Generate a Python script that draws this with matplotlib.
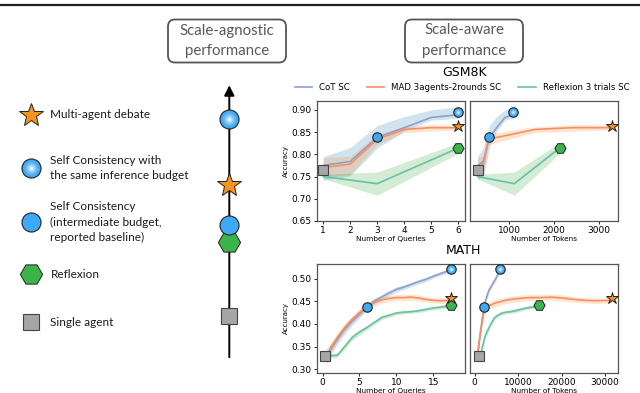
import matplotlib
matplotlib.use("Agg")
import matplotlib.pyplot as plt
from matplotlib.patches import FancyBboxPatch
from matplotlib.colors import to_rgb
import numpy as np

# ---- GSM8K, accuracy vs number of queries / tokens ----
gsm_q = [1, 2, 3, 4, 5, 6]
gsm_cot = [0.775, 0.784, 0.838, 0.860, 0.883, 0.889]
gsm_cot_lo = [0.742, 0.752, 0.814, 0.852, 0.877, 0.881]
gsm_cot_hi = [0.795, 0.815, 0.865, 0.885, 0.900, 0.907]
gsm_cot_tok = [290, 420, 555, 717, 903, 1075]

gsm_mad = [0.770, 0.778, 0.834, 0.856, 0.860, 0.860]
gsm_mad_lo = [0.750, 0.754, 0.822, 0.849, 0.852, 0.855]
gsm_mad_hi = [0.792, 0.796, 0.846, 0.862, 0.867, 0.866]
gsm_mad_tok = [290, 420, 530, 1570, 2420, 3280]

gsm_ref_q = [1, 3, 6]
gsm_ref = [0.750, 0.734, 0.814]
gsm_ref_lo = [0.745, 0.708, 0.802]
gsm_ref_hi = [0.755, 0.760, 0.826]
gsm_ref_tok = [290, 1110, 2120]

# highlighted points (queries, tokens, accuracy)
gsm_single = (1, 300, 0.765)
gsm_sc_mid = (3, 555, 0.840)
gsm_sc_same = (6, 1075, 0.895)
gsm_debate = (6, 3280, 0.864)
gsm_reflexion = (6, 2120, 0.814)

# ---- MATH ----
math_q = [0.5, 1, 2, 3, 4, 5, 6, 7, 8, 9, 10, 11, 12, 13, 14, 15, 16, 17.4]
math_cot = [0.330, 0.341, 0.366, 0.388, 0.406, 0.421, 0.438, 0.450, 0.459,
            0.468, 0.476, 0.481, 0.487, 0.493, 0.498, 0.505, 0.511, 0.519]
math_cot_err = [0.015, 0.012, 0.011, 0.010, 0.009, 0.008, 0.007, 0.007, 0.006,
                0.006, 0.006, 0.005, 0.005, 0.005, 0.005, 0.004, 0.004, 0.004]
math_cot_tok = [650, 800, 1100, 1400, 1650, 1900, 2150, 2450, 2750, 3050,
                3350, 3700, 4050, 4400, 4750, 5100, 5450, 5850]

math_mad = [0.318, 0.345, 0.370, 0.392, 0.410, 0.425, 0.437, 0.447, 0.453,
            0.456, 0.458, 0.458, 0.459, 0.457, 0.454, 0.452, 0.451, 0.452]
math_mad_err = [0.012, 0.011, 0.010, 0.009, 0.008, 0.008, 0.008, 0.008, 0.007,
                0.007, 0.007, 0.007, 0.007, 0.007, 0.006, 0.006, 0.006, 0.006]
math_mad_tok = [600, 800, 1150, 1500, 1800, 2100, 2450, 5000, 7500, 10000,
                12600, 15100, 17700, 20200, 22800, 25300, 27900, 31500]

math_ref = [0.330, 0.330, 0.331, 0.350, 0.370, 0.382, 0.392, 0.403, 0.414,
            0.419, 0.424, 0.426, 0.427, 0.429, 0.432, 0.435, 0.437, 0.440]
math_ref_err = [0.005, 0.005, 0.005, 0.006, 0.006, 0.006, 0.005, 0.005, 0.005,
                0.004, 0.004, 0.004, 0.004, 0.004, 0.004, 0.004, 0.004, 0.004]
math_ref_tok = [900, 1000, 1300, 1800, 2300, 2800, 3300, 3900, 4600, 5300,
                6300, 7300, 8300, 9300, 10500, 11800, 13200, 14800]

math_single = (0.4, 920, 0.330)
math_sc_mid = (6, 2150, 0.438)
math_sc_same = (17.4, 5850, 0.520)
math_debate = (17.4, 31500, 0.458)
math_reflexion = (17.4, 14800, 0.442)

series_names = ["CoT SC", "MAD 3agents-2rounds SC", "Reflexion 3 trials SC"]
line_colors = ["#8da0cb", "#fc8d62", "#66c2a5"]
band_colors = ["#1f77b4", "#ff7f0e", "#2ca02c"]

C_BLUE = "#3fa9f5"
C_STAR = "#f7941d"
C_HEX = "#3bb54a"
C_SQ = "#a6a6a6"
EDGE = "#222222"

fig = plt.figure(figsize=(6.4, 3.93), dpi=100)

# ---- schematic (pixel coordinates) ----
ax0 = fig.add_axes([0, 0, 1, 1])
ax0.set_xlim(0, 640)
ax0.set_ylim(393, 0)
ax0.axis("off")

ax0.plot([0, 640], [4.5, 4.5], color="#222222", lw=1.6)

for bx, lines in [(168, ["Scale-agnostic", "performance"]),
                  (405, ["Scale-aware", "performance"])]:
    ax0.add_patch(FancyBboxPatch((bx, 19.5), 118, 43,
                                 boxstyle="round,pad=0,rounding_size=7",
                                 fc="white", ec="#555555", lw=1.3))
    ax0.text(bx + 59, 30.5, lines[0], ha="center", va="center",
             fontsize=10.8, color="#595959", family="Lato")
    ax0.text(bx + 59, 50.5, lines[1], ha="center", va="center",
             fontsize=10.8, color="#595959", family="Lato")


def glossy(ax, x, y, ms):
    # light blue disc with a soft white centre
    ax.plot(x, y, "o", ms=ms, mfc=C_BLUE, mec=EDGE, mew=0.8, zorder=6, clip_on=False)
    base = np.array(to_rgb(C_BLUE))
    steps = 7
    for k in range(1, steps + 1):
        f = k / steps
        col = base + (1 - base) * (f ** 1.6) * 0.95
        ax.plot(x, y, "o", ms=(ms - 1.0) * (1 - f * 0.88), mfc=col, mec="none",
                zorder=6 + k * 0.1, clip_on=False)


def marker(ax, kind, x, y, big):
    if kind == "star":
        ax.plot(x, y, "*", ms=18 if big else 9, mfc=C_STAR, mec=EDGE, mew=0.7, zorder=6, clip_on=False)
    elif kind == "same":
        glossy(ax, x, y, 13.7 if big else 6.8)
    elif kind == "mid":
        ax.plot(x, y, "o", ms=13.7 if big else 6.8, mfc=C_BLUE, mec=EDGE, mew=0.8, zorder=6, clip_on=False)
    elif kind == "hex":
        ax.plot(x, y, "H", ms=16 if big else 8, mfc=C_HEX, mec=EDGE, mew=0.7, zorder=5, clip_on=False)
    elif kind == "sq":
        ax.plot(x, y, "s", ms=11.5 if big else 7.3, mfc=C_SQ, mec="#444444", mew=0.8, zorder=6, clip_on=False)


# legend column on the left
legend_rows = [("star", 115, ["Multi-agent debate"]),
               ("same", 168, ["Self Consistency with", "the same inference budget"]),
               ("mid", 222, ["Self Consistency", "(intermediate budget,", "reported baseline)"]),
               ("hex", 274, ["Reflexion"]),
               ("sq", 322, ["Single agent"])]
for kind, yy, lines in legend_rows:
    marker(ax0, kind, 31, yy, True)
    n = len(lines)
    for i, t in enumerate(lines):
        ax0.text(50.5, yy + (i - (n - 1) / 2) * 15.5, t, ha="left", va="center",
                 fontsize=8.5, color="#1a1a1a", family="Lato")

# vertical arrow with ranking
ax0.annotate("", xy=(229.3, 82.5), xytext=(229.3, 360),
             arrowprops=dict(arrowstyle="-|>", lw=1.4, color="black", mutation_scale=15))
for kind, yy in [("same", 119), ("star", 185), ("hex", 242), ("mid", 225), ("sq", 315.5)]:
    marker(ax0, kind, 229.3, yy, True)

# ---- charts ----
W = 148 / 640
ax_gq = fig.add_axes([317 / 640, 1 - 221 / 393, W, 120 / 393])
ax_gt = fig.add_axes([469.7 / 640, 1 - 221 / 393, W, 120 / 393], sharey=ax_gq)
ax_mq = fig.add_axes([317 / 640, 1 - 373 / 393, W, 109 / 393])
ax_mt = fig.add_axes([469.7 / 640, 1 - 373 / 393, W, 109 / 393], sharey=ax_mq)


def draw_band(ax, x, y, lo, hi, i):
    ax.fill_between(x, lo, hi, color=band_colors[i], alpha=0.2, lw=0)
    return ax.plot(x, y, color=line_colors[i], lw=1.2, label=series_names[i])[0]


handles = []
for ax, xs in [(ax_gq, (gsm_q, gsm_q, gsm_ref_q)),
               (ax_gt, (gsm_cot_tok, gsm_mad_tok, gsm_ref_tok))]:
    h1 = draw_band(ax, xs[0], gsm_cot, gsm_cot_lo, gsm_cot_hi, 0)
    h2 = draw_band(ax, xs[1], gsm_mad, gsm_mad_lo, gsm_mad_hi, 1)
    h3 = draw_band(ax, xs[2], gsm_ref, gsm_ref_lo, gsm_ref_hi, 2)
    if not handles:
        handles = [h1, h2, h3]

for ax, xs in [(ax_mq, (math_q, math_q, math_q)),
               (ax_mt, (math_cot_tok, math_mad_tok, math_ref_tok))]:
    for i, (vals, err) in enumerate([(math_cot, math_cot_err),
                                     (math_mad, math_mad_err),
                                     (math_ref, math_ref_err)]):
        v = np.array(vals)
        e = np.array(err)
        draw_band(ax, xs[i], v, v - e, v + e, i)

for ax, col in [(ax_gq, 0), (ax_gt, 1)]:
    marker(ax, "hex", gsm_reflexion[col], gsm_reflexion[2], False)
    marker(ax, "star", gsm_debate[col], gsm_debate[2], False)
    marker(ax, "mid", gsm_sc_mid[col], gsm_sc_mid[2], False)
    marker(ax, "same", gsm_sc_same[col], gsm_sc_same[2], False)
    marker(ax, "sq", gsm_single[col], gsm_single[2], False)

for ax, col in [(ax_mq, 0), (ax_mt, 1)]:
    marker(ax, "hex", math_reflexion[col], math_reflexion[2], False)
    marker(ax, "star", math_debate[col], math_debate[2], False)
    marker(ax, "mid", math_sc_mid[col], math_sc_mid[2], False)
    marker(ax, "same", math_sc_same[col], math_sc_same[2], False)
    marker(ax, "sq", math_single[col], math_single[2], False)

ax_gq.set_xlim(0.77, 6.25)
ax_gt.set_xlim(115, 3416)
ax_gq.set_ylim(0.65, 0.92)
ax_gq.set_xticks([1, 2, 3, 4, 5, 6])
ax_gt.set_xticks([1000, 2000, 3000])
ax_gq.set_yticks([0.65, 0.70, 0.75, 0.80, 0.85, 0.90])

ax_mq.set_xlim(-0.75, 19.3)
ax_mt.set_xlim(-1150, 32900)
ax_mq.set_ylim(0.292, 0.532)
ax_mq.set_xticks([0, 5, 10, 15])
ax_mt.set_xticks([0, 10000, 20000, 30000])
ax_mq.set_yticks([0.30, 0.35, 0.40, 0.45, 0.50])

for ax in [ax_gq, ax_gt, ax_mq, ax_mt]:
    ax.tick_params(labelsize=6.5, length=2.5, width=0.6, pad=1.2)
    for s in ax.spines.values():
        s.set_color("#555555")
        s.set_linewidth(0.9)
for ax in [ax_gq, ax_mq]:
    ax.yaxis.set_major_formatter(matplotlib.ticker.FormatStrFormatter("%.2f"))
    ax.set_ylabel("Accuracy", fontsize=5, labelpad=2)
    ax.set_xlabel("Number of Queries", fontsize=5.3, labelpad=0.3)
for ax in [ax_gt, ax_mt]:
    ax.tick_params(left=False, labelleft=False)
    ax.set_xlabel("Number of Tokens", fontsize=5.3, labelpad=0.3)

fig.text(465 / 640, 1 - 72.5 / 393, "GSM8K", ha="center", va="center", fontsize=9)
fig.text(463 / 640, 1 - 251 / 393, "MATH", ha="center", va="center", fontsize=9)
fig.legend(handles=handles, loc="center", bbox_to_anchor=(462 / 640, 1 - 88 / 393),
           ncol=3, frameon=False, fontsize=6.2, borderpad=0, handlelength=2.0)

fig.savefig("out.png", dpi=100)
